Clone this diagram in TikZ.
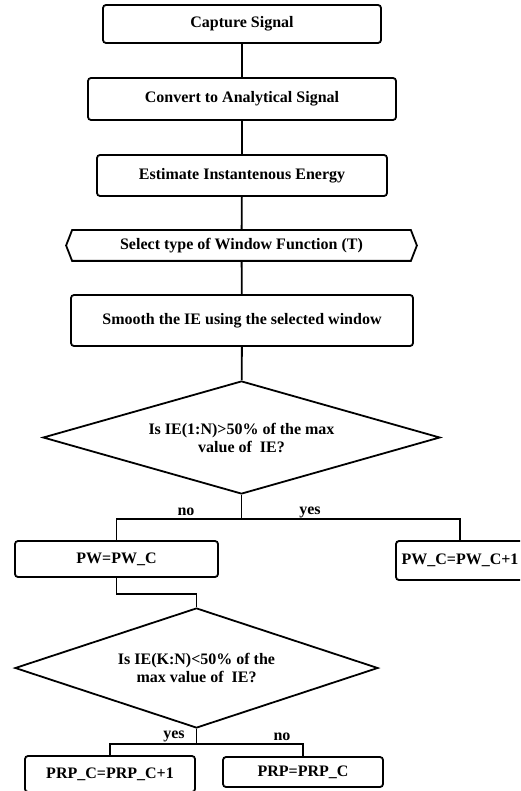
\documentclass[tikz,border=0pt]{standalone}
\usepackage{fontspec}
\setmainfont{Liberation Serif}
\usetikzlibrary{shapes.geometric}

\begin{document}
\begin{tikzpicture}[x=1pt, y=-1pt, line width=1.8pt,
    every node/.style={font=\bfseries\fontsize{16}{18}\selectfont},
    box/.style={draw, rounded corners=3pt, inner sep=0pt},
    decision/.style={draw, diamond, aspect=3.5, inner sep=0pt, align=center},
    lbl/.style={anchor=base, inner sep=0pt}]

    \useasboundingbox (0,0) rectangle (520,791);
    \clip (0,0) rectangle (520,791);

    \node[box, minimum width=278, minimum height=38] (cap) at (242,24) {Capture Signal};
    \node[box, minimum width=308, minimum height=42] (conv) at (242,99) {Convert to Analytical Signal};
    \node[box, minimum width=290, minimum height=41] (est) at (242,175.5) {Estimate Instantenous Energy};
    \node[inner sep=0pt, minimum width=349, minimum height=29] (sel) at (241.5,245.5) {Select type of Window Function (T)};
    \draw (sel.west) -- ([xshift=6pt]sel.north west) -- ([xshift=-6pt]sel.north east)
        -- (sel.east) -- ([xshift=-6pt]sel.south east) -- ([xshift=6pt]sel.south west) -- cycle;
    \node[box, minimum width=342, minimum height=51] (smooth) at (242,320.5) {Smooth the IE using the selected window};
    \node[decision, minimum width=397, minimum height=113] (dec1) at (241.5,437.5)
        {Is IE(1:N)>50\% of the max\\value of\ \ IE?};

    \node[box, minimum width=203, minimum height=36] (pw) at (116.5,559) {PW=PW\_C};
    \node[box, minimum width=128, minimum height=39] (pwc) at (460,560.5) {PW\_C=PW\_C+1};
    \node[decision, minimum width=363, minimum height=120] (dec2) at (196.5,668)
        {Is IE(K:N)<50\% of the\\max value of\ \ IE?};

    \node[box, minimum width=170, minimum height=36] (prp1) at (110,774) {PRP\_C=PRP\_C+1};
    \node[box, minimum width=160, minimum height=30] (prp2) at (303,772) {PRP=PRP\_C};

    \draw (cap) -- (conv);
    \draw (conv) -- (est);
    \draw (est) -- (sel);
    \draw (sel) -- (smooth);
    \draw (smooth) -- (dec1);

    \draw (dec1.south) -- ++(0,24) coordinate (j1);
    \draw (pw.north) |- (j1) -| (pwc.north);
    \node[lbl] (no1) at (186,515) {no};
    \node[lbl] (yes1) at (310,514) {yes};

    \draw (pw.south) -- ++(0,16) -| (dec2.north);

    \draw (dec2.south) -- ++(0,15) coordinate (j2);
    \draw (prp1.north) |- (j2) -| (prp2.north);
    \node[lbl] (yes2) at (174,738) {yes};
    \node[lbl] (no2) at (282,740) {no};

\end{tikzpicture}
\end{document}
